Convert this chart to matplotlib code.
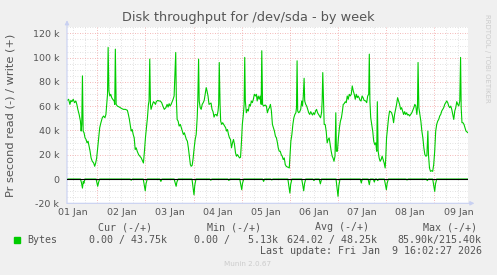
"""Munin style disk throughput chart (by week) for /dev/sda."""

import matplotlib
matplotlib.use('Agg')
import matplotlib.pyplot as plt
import numpy as np

W, H = 497, 275

# hours since 01 Jan 00:00, write rate in kB/s
write_hours = [
    9.0, 9.7, 10.35, 10.85, 11.35, 12.0, 12.65, 13.3, 13.8, 14.3, 14.95, 15.6,
    15.95, 16.25, 16.6, 16.95, 17.4, 17.9, 18.4, 18.9, 19.4, 19.9, 20.4, 20.9,
    21.5, 22.2, 22.7, 23.2, 23.7, 24.2, 24.7, 25.2, 25.8, 26.5, 27.1, 27.8,
    28.3, 28.8, 29.1, 29.4, 29.8, 30.25, 30.7, 31.2, 31.7, 32.4, 32.7, 33.0,
    33.4, 34.0, 35.0, 36.0, 37.0, 38.0, 39.0, 39.5, 40.0, 40.4, 40.9, 41.4,
    41.9, 42.4, 42.9, 43.4, 43.9, 44.6, 45.2, 45.9, 46.5, 47.0, 47.5, 48.0,
    48.5, 49.0, 49.5, 49.8, 50.15, 50.5, 50.8, 51.5, 52.0, 52.5, 53.0, 53.4,
    54.1, 54.75, 55.4, 56.1, 56.7, 57.4,
    58.2, 58.8, 59.3, 59.8, 60.3, 60.8, 61.3, 61.8, 62.3, 63.1, 63.4, 63.8,
    64.3, 64.8, 65.4, 65.9, 66.4, 66.9, 67.4, 67.9, 68.4, 68.9, 69.4, 69.9,
    70.4, 70.8, 71.3, 71.8, 72.3, 72.8, 73.3, 73.8, 74.1, 74.5, 74.8, 75.3,
    75.8, 76.3, 76.8, 77.3, 77.8, 78.3, 78.7, 79.2, 79.7, 80.2, 80.7, 81.2,
    81.7, 82.2, 82.7, 83.2, 83.7, 84.2, 84.5, 84.8, 85.2, 85.5, 86.0, 86.5,
    87.0, 87.5, 88.0, 88.4, 88.9, 89.4, 89.9, 90.4, 90.9, 91.4, 91.9, 92.4,
    92.9, 93.4, 93.9, 94.4, 94.9, 95.4, 95.8, 96.3, 96.8, 97.2, 97.5, 97.8,
    98.3, 98.8, 99.3, 99.8, 100.3, 100.8, 101.3, 101.8, 102.3, 102.8, 103.3,
    103.7, 104.2, 104.7, 105.2, 105.7, 106.0, 106.4, 106.9,
    107.7, 108.3, 108.8, 109.3, 109.8, 110.3, 110.8, 111.3, 111.8, 112.3,
    112.8, 113.3, 113.8, 114.2, 114.7, 115.2, 115.7, 116.2, 116.7, 117.2,
    117.7, 118.2, 118.7, 119.2, 119.7, 120.0, 120.5, 121.0, 121.5, 122.0,
    122.5, 123.0, 123.3, 123.6, 123.9, 124.4, 124.9, 125.4, 125.9, 126.3,
    126.7, 127.1, 127.4, 127.9, 128.4, 128.9, 129.4, 129.9, 130.4, 130.9,
    131.3, 131.8, 132.3, 132.8, 133.3, 133.8, 134.3, 134.8, 135.3, 135.8,
    136.1, 136.4, 136.8, 137.1, 137.6, 138.1, 138.6, 139.1, 139.6, 140.1,
    140.6, 141.1, 141.5, 142.0, 142.5, 142.9, 143.2, 143.7, 144.2, 144.7,
    145.2, 145.7, 146.2, 146.6, 147.1, 147.6, 148.1, 148.6, 149.1, 149.6,
    150.1, 150.6, 151.1, 151.6, 152.1, 152.6, 153.1, 153.6, 154.0, 154.5,
    155.0, 155.5, 156.0, 156.5, 157.0,
    157.8, 158.3, 158.8, 159.3, 159.6, 159.9, 160.3, 160.8, 161.3, 161.8,
    162.3, 162.8, 163.3, 163.6, 164.0, 164.5, 165.0, 165.5, 166.0, 166.5,
    167.0, 167.5, 167.8, 168.2, 168.7, 169.2, 169.7, 170.2, 170.7, 171.2,
    171.7, 172.2, 172.7, 173.2, 173.7, 174.2, 174.7, 175.2, 175.7, 176.2,
    176.7, 177.2, 177.7, 178.2, 178.7, 179.2, 179.7, 180.2, 180.8, 181.3,
    181.8, 182.3, 182.8, 183.3, 183.6, 183.9, 184.3, 184.8, 185.3, 185.8,
    186.3, 186.8, 187.3, 187.8, 188.3, 188.8, 189.1, 189.6, 190.1, 190.7,
    191.2, 191.7, 192.2, 192.7, 193.2, 193.7, 194.2, 194.7, 195.2, 195.7,
    196.2, 196.7, 197.2, 197.7, 198.2, 198.7, 199.2, 199.7, 200.2, 200.7,
    201.2, 201.7, 202.2, 202.7, 203.2, 203.7, 204.2, 204.7, 205.1, 205.4,
    205.8, 206.3, 206.8, 207.3, 207.8, 208.8,
]
write_kb = [
    64.8, 65.7, 61.5, 64.8, 63.7, 65.7, 62.9, 64.3, 61.5, 57.4, 53.2, 47.7,
    39.5, 45.0, 85.0, 39.5, 38.1, 33.9, 32.6, 29.8, 31.2, 27.0, 22.9, 17.4,
    14.6, 13.2, 10.5, 13.2, 17.4, 25.7, 33.9, 42.2, 46.4, 50.5, 51.9, 50.5,
    53.2, 64.3, 69.8, 108.4, 72.6, 68.4, 69.8, 67.0, 65.7, 64.3, 61.5, 107.0,
    61.5, 60.1, 59.3, 58.2, 57.4, 57.4, 56.6, 53.2, 49.1, 45.0, 39.5, 40.8,
    36.7, 33.9, 24.3, 25.7, 22.9, 20.1, 18.8, 17.4, 15.2, 13.2, 22.9, 33.9,
    42.2, 50.5, 61.5, 64.3, 98.8, 61.5, 57.4, 61.5, 63.7, 62.9, 61.5, 63.7,
    64.8, 64.3, 64.3, 62.9, 60.1, 57.4,
    58.8, 61.5, 59.3, 62.1, 60.1, 61.5, 63.7, 65.7, 68.4, 104.3, 67.0, 49.1,
    47.7, 43.6, 45.0, 42.2, 39.5, 36.7, 38.1, 35.3, 32.6, 31.2, 25.7, 18.8,
    11.9, 10.5, 11.3, 17.4, 25.7, 32.6, 36.7, 50.5, 64.3, 98.8, 64.3, 58.8,
    57.4, 61.5, 62.9, 64.8, 69.8, 75.3, 72.6, 68.4, 61.5, 62.1, 62.6, 57.4,
    55.5, 51.0, 53.2, 53.2, 51.9, 56.0, 61.5, 96.0, 61.5, 47.7, 45.0, 46.4,
    45.0, 43.6, 42.2, 39.5, 40.8, 36.7, 33.9, 32.6, 25.7, 29.8, 32.6, 28.4,
    21.5, 18.8, 20.1, 18.8, 17.4, 17.9, 28.4, 45.0, 53.2, 61.5, 100.2, 64.3,
    54.6, 57.4, 56.0, 61.5, 60.1, 64.3, 62.9, 65.7, 69.8, 68.4, 69.8,
    64.3, 68.4, 65.7, 68.4, 61.5, 105.7, 61.5, 60.1,
    61.0, 60.1, 54.6, 57.4, 58.8, 61.5, 56.0, 45.0, 42.2, 39.5,
    35.3, 33.9, 29.8, 25.7, 22.9, 22.9, 20.1, 18.8, 16.0, 17.4,
    11.9, 10.5, 9.9, 9.7, 9.1, 17.4, 31.2, 36.7, 45.0, 50.5,
    53.2, 54.6, 58.8, 97.4, 56.0, 54.6, 55.5, 57.4, 64.3, 60.1,
    68.4, 83.0, 64.3, 61.5, 60.1, 57.4, 54.6, 53.2, 55.5, 53.8,
    52.7, 54.6, 53.2, 56.0, 57.4, 54.6, 53.2, 51.9, 50.5, 54.6,
    64.3, 87.7, 61.5, 45.0, 45.0, 39.5, 29.8, 32.6, 33.9, 28.4,
    22.9, 18.8, 17.4, 14.6, 18.8, 54.6, 22.9, 22.9, 33.9, 42.2,
    47.7, 50.5, 56.0, 61.5, 62.1, 63.7, 62.9, 68.4, 65.7, 69.8,
    68.4, 69.8, 76.7, 72.6, 69.8, 65.7, 69.8, 67.0, 68.4, 67.0,
    64.8, 64.3, 68.4, 67.0, 64.8,
    64.3, 62.9, 68.4, 69.8, 102.9, 64.3, 50.5, 45.0, 39.5, 31.2,
    28.4, 29.8, 22.9, 63.7, 22.9, 17.4, 14.6, 16.0, 18.8, 16.0,
    13.2, 9.1, 17.4, 33.9, 42.2, 50.5, 56.0, 55.5, 54.6, 51.9,
    46.4, 53.2, 57.4, 61.5, 67.0, 64.3, 61.5, 57.4, 58.8, 56.0,
    53.2, 55.5, 53.2, 54.6, 52.7, 53.2, 51.9, 53.2, 54.6, 56.6,
    58.8, 61.5, 60.1, 53.2, 58.8, 96.0, 58.8, 53.2, 47.7, 39.5,
    33.9, 25.7, 20.1, 18.8, 19.3, 39.5, 20.1, 9.1, 6.3, 6.9,
    6.3, 11.9, 22.9, 39.5, 45.0, 47.7, 49.1, 51.9, 53.2, 56.0,
    57.4, 58.8, 61.5, 62.9, 64.3, 62.9, 60.1, 58.8, 60.1, 57.4,
    53.2, 49.1, 56.0, 58.8, 63.7, 61.5, 60.1, 64.3, 100.2, 58.8,
    46.4, 46.4, 45.0, 42.2, 39.5, 38.1,
]

# read rate in kB/s (drawn below zero)
read_hours = [
    8.9, 15.6, 16.1, 16.6, 17.0, 17.3, 17.8, 23.4, 23.8, 24.2, 24.7, 25.2,
    40.4, 40.9, 41.4, 46.9, 47.4, 47.9, 48.3, 48.9, 55.2, 55.7, 56.2,
    62.3, 62.8, 63.3, 63.7, 64.3, 71.2, 71.7, 72.2, 72.6, 73.2,
    80.1, 80.6, 81.1, 89.1, 89.6, 90.1, 95.0, 95.5, 96.0, 96.4, 97.0,
    106.4, 106.9, 107.4, 110.5, 111.0, 111.5, 119.0, 119.5, 120.0, 120.4, 121.0,
    125.9, 126.4, 126.9, 127.3, 127.9, 131.5, 132.0, 132.5, 134.6, 135.2, 135.8,
    143.0, 143.5, 144.0, 144.4, 145.0, 155.1, 155.6, 156.1,
    159.0, 159.6, 160.1, 161.6, 162.1, 162.6, 163.3, 163.8, 164.3,
    167.1, 167.6, 168.1, 168.5, 169.1, 177.9, 178.4, 178.9,
    188.0, 188.5, 189.0, 191.2, 191.7, 192.2, 192.6, 193.2, 208.8,
]
read_kb = [
    0, 0, 3.0, 7.5, 2.0, 3.5, 0, 0, 3.0, 6.0, 2.4, 0,
    0, 1.0, 0, 0, 4.8, 9.7, 3.9, 0, 0, 2.0, 0,
    0, 3.0, 6.0, 2.4, 0, 0, 6.5, 13.0, 5.2, 0,
    0, 1.0, 0, 0, 1.2, 0, 0, 4.4, 8.8, 3.5, 0,
    0, 2.0, 0, 0, 0.8, 0, 0, 5.8, 11.6, 4.6, 0,
    0, 4.8, 9.7, 3.9, 0, 0, 1.3, 0, 0, 4.0, 0,
    0, 7.2, 14.3, 5.7, 0, 0, 3.3, 0,
    0, 4.7, 0, 0, 2.5, 0, 0, 1.3, 0,
    0, 4.4, 8.8, 3.5, 0, 0, 0.8, 0,
    0, 1.3, 0, 0, 5.1, 10.2, 4.1, 0, 0,
]

day_labels = ['01 Jan', '02 Jan', '03 Jan', '04 Jan', '05 Jan',
              '06 Jan', '07 Jan', '08 Jan', '09 Jan']
y_ticks = [-20000, 0, 20000, 40000, 60000, 80000, 100000, 120000]
y_labels = ['-20 k', '0', '20 k', '40 k', '60 k', '80 k', '100 k', '120 k']

legend_heads = ['Cur (-/+)', 'Min (-/+)', 'Avg (-/+)', 'Max (-/+)']
legend_vals = ['0.00 / 43.75k', '0.00 /   5.13k', '624.02 / 48.25k', '85.90k/215.40k']

GREEN = '#00CC00'
TXT = '#555555'
AXIS = '#C8D0F2'

fig = plt.figure(figsize=(W / 100, H / 100), dpi=100, facecolor='#F0F0F0')
ax = fig.add_axes([67 / W, 1 - 203.3 / H, (468 - 67) / W, (203.3 - 27.3) / H])
ax.set_facecolor('white')
x0, x1 = 8.9, 208.8
ax.set_xlim(x0, x1)
ax.set_ylim(-20000, 125000)
for s in ax.spines.values():
    s.set_visible(False)

# grid: minor gray every 6h / 5k, major red every 24h / 20k
dots = (0, (1, 2))
for h in np.arange(12, x1, 6):
    if h % 24:
        ax.axvline(h, color='#D8D8D8', lw=0.6, ls=dots, zorder=1)
for v in np.arange(-15000, 125001, 5000):
    if v % 20000:
        ax.axhline(v, color='#D8D8D8', lw=0.6, ls=dots, zorder=1)
for h in np.arange(24, x1, 24):
    ax.axvline(h, color='#F0A0A0', lw=0.6, ls=dots, zorder=1)
for v in np.arange(20000, 125001, 20000):
    ax.axhline(v, color='#F0A0A0', lw=0.6, ls=dots, zorder=1)

ax.plot(read_hours, -np.array(read_kb) * 1000, color=GREEN, lw=0.8, zorder=3)
ax.plot(write_hours, np.array(write_kb) * 1000, color=GREEN, lw=0.8, zorder=3)
ax.axhline(0, color='black', lw=0.8, zorder=4)

# axis lines with arrows
arrow = dict(arrowstyle='-|>', color=AXIS, lw=0.8, mutation_scale=6, shrinkA=0, shrinkB=0)
ax.annotate('', xy=(0, 1.04), xytext=(0, 0), xycoords='axes fraction',
            arrowprops=arrow, annotation_clip=False)
ax.annotate('', xy=(1.016, 0), xytext=(0, 0), xycoords='axes fraction',
            arrowprops=arrow, annotation_clip=False)

ax.set_xticks(np.arange(12, 12 + 24 * len(day_labels), 24))
ax.set_xticklabels(day_labels)
ax.set_yticks(y_ticks)
ax.set_yticklabels(y_labels)
ax.tick_params(length=0, labelsize=6.8, colors=TXT)
ax.tick_params(axis='x', pad=3.5)
ax.tick_params(axis='y', pad=5.5)

fig.text(0.5, 1 - 17 / H, 'Disk throughput for /dev/sda - by week', ha='center', va='center',
         fontsize=9.3, color=TXT)
fig.text(11 / W, 1 - 115 / H, 'Pr second read (-) / write (+)', rotation=90,
         ha='center', va='center', fontsize=8.2, color=TXT)
fig.text(487 / W, 1 - 58 / H, 'RRDTOOL / TOBI OETIKER', rotation=270,
         ha='center', va='center', fontsize=5, color='#CCCCCC')

mono = 'DejaVu Sans Mono'
for x, t in zip([98, 207, 315, 422.7], legend_heads):
    fig.text(x / W, 1 - 227.5 / H, t, ha='left', va='center', fontsize=7.2,
             family=mono, color=TXT)
fig.patches.append(plt.Rectangle((14 / W, 1 - 243 / H), 6 / W, 6 / H,
                                 transform=fig.transFigure, color=GREEN))
fig.text(27 / W, 1 - 240 / H, 'Bytes', ha='left', va='center', fontsize=7.2,
         family=mono, color=TXT)
for x, t in zip([89.3, 194.3, 286.7, 397.7], legend_vals):
    fig.text(x / W, 1 - 240 / H, t, ha='left', va='center', fontsize=7.2,
             family=mono, color=TXT)
fig.text(482.5 / W, 1 - 251.5 / H, 'Last update: Fri Jan  9 16:02:27 2026',
         ha='right', va='center', fontsize=7.2, family=mono, color=TXT)
fig.text(248 / W, 1 - 264 / H, 'Munin 2.0.67', ha='center', va='center',
         fontsize=5.2, color='#CCCCCC')

fig.savefig('out.png', dpi=100, facecolor=fig.get_facecolor())
